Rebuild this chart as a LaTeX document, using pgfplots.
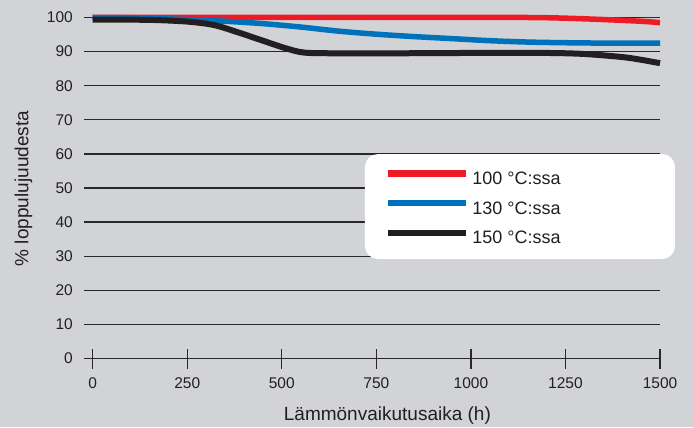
\documentclass[border=0pt]{standalone}
\usepackage{fontspec}
\setmainfont{Liberation Sans}
\usepackage{pgfplots}
\pgfplotsset{compat=1.18}
\definecolor{bg}{RGB}{210,211,215}
\definecolor{cred}{RGB}{237,28,36}
\definecolor{cblue}{RGB}{0,114,188}
\definecolor{cblack}{RGB}{35,31,32}
\definecolor{txt}{RGB}{35,31,32}
\definecolor{gridc}{RGB}{40,40,40}
\begin{document}
\begin{tikzpicture}[x=1bp,y=1bp]
\fill[bg] (-84,-68.5) rectangle (610,358.5);
\begin{axis}[at={(0,0)}, anchor=south west, scale only axis,
  width=576bp, height=341bp,
  xmin=-23, xmax=1500, ymin=0, ymax=100, clip=false,
  axis line style={draw=none},
  tick pos=left,
  xtick={0,250,...,1500}, ytick={0,10,...,100},
  ymajorgrids, grid style={gridc, line width=1.3bp},
  major tick length=20bp,
  xtick align=center, ytick align=inside,
  xtick style={gridc, line width=1.3bp},
  ytick style={draw=none},
  /pgf/number format/assume math mode=true,
  /pgf/number format/1000 sep={},
  ticklabel style={font=\fontsize{15.5bp}{18bp}\selectfont, text=txt},
  yticklabel style={anchor=east, inner sep=0pt, xshift=-11bp},
  xticklabel style={anchor=north, inner sep=0pt, yshift=-9bp},
  xlabel={Lämmönvaikutusaika (h)},
  ylabel={\% loppulujuudesta},
  label style={font=\fontsize{19bp}{22bp}\selectfont, text=txt, inner sep=0pt},
  xlabel style={at={(axis description cs:0.5267,0)}, anchor=base, yshift=-61.5bp},
  ylabel style={at={(axis description cs:-0.0967,0.4985)}, rotate=0, anchor=base},
  legend style={at={(axis description cs:0.5226,0.5519)}, anchor=north west,
    draw=none, fill=none, inner sep=0pt, outer sep=0pt, row sep=11.5bp, column sep=3bp,
    nodes={inner sep=0pt, text height=13bp, text depth=4bp,
      font=\fontsize{18bp}{21bp}\selectfont, text=txt}},
  legend cell align=left,
  legend image code/.code={\draw[#1, line cap=butt, line width=6.3bp] (0bp,6.5bp) -- (78bp,6.5bp);},
]
\fill[white, rounded corners=13bp] (axis description cs:0.4878,0.2918) rectangle (axis description cs:1.026,0.5997);
\addplot[cred, line width=5.5bp, smooth, line cap=butt] coordinates {
 (0,100) (300,100) (600,100) (900,100) (1150,100) (1250,99.8) (1350,99.4) (1450,98.9) (1500,98.5)};
\addlegendentry{100 °C:ssa}
\addplot[cblue, line width=5.5bp, smooth, line cap=butt] coordinates {
 (0,100) (100,99.9) (250,99.4) (350,98.9) (450,98.2) (550,97.2) (650,96.0) (750,95.1) (850,94.4) (950,93.8) (1050,93.2) (1150,92.8) (1250,92.6) (1350,92.5) (1500,92.5)};
\addlegendentry{130 °C:ssa}
\addplot[cblack, line width=6bp, smooth, line cap=butt] coordinates {
 (0,99.4) (150,99.3) (250,98.8) (320,97.8) (380,95.8) (450,93.2) (510,91.0) (560,89.7) (650,89.5) (800,89.5) (1000,89.6) (1200,89.6) (1300,89.3) (1400,88.4) (1450,87.6) (1500,86.6)};
\addlegendentry{150 °C:ssa}
\end{axis}
\end{tikzpicture}
\end{document}
